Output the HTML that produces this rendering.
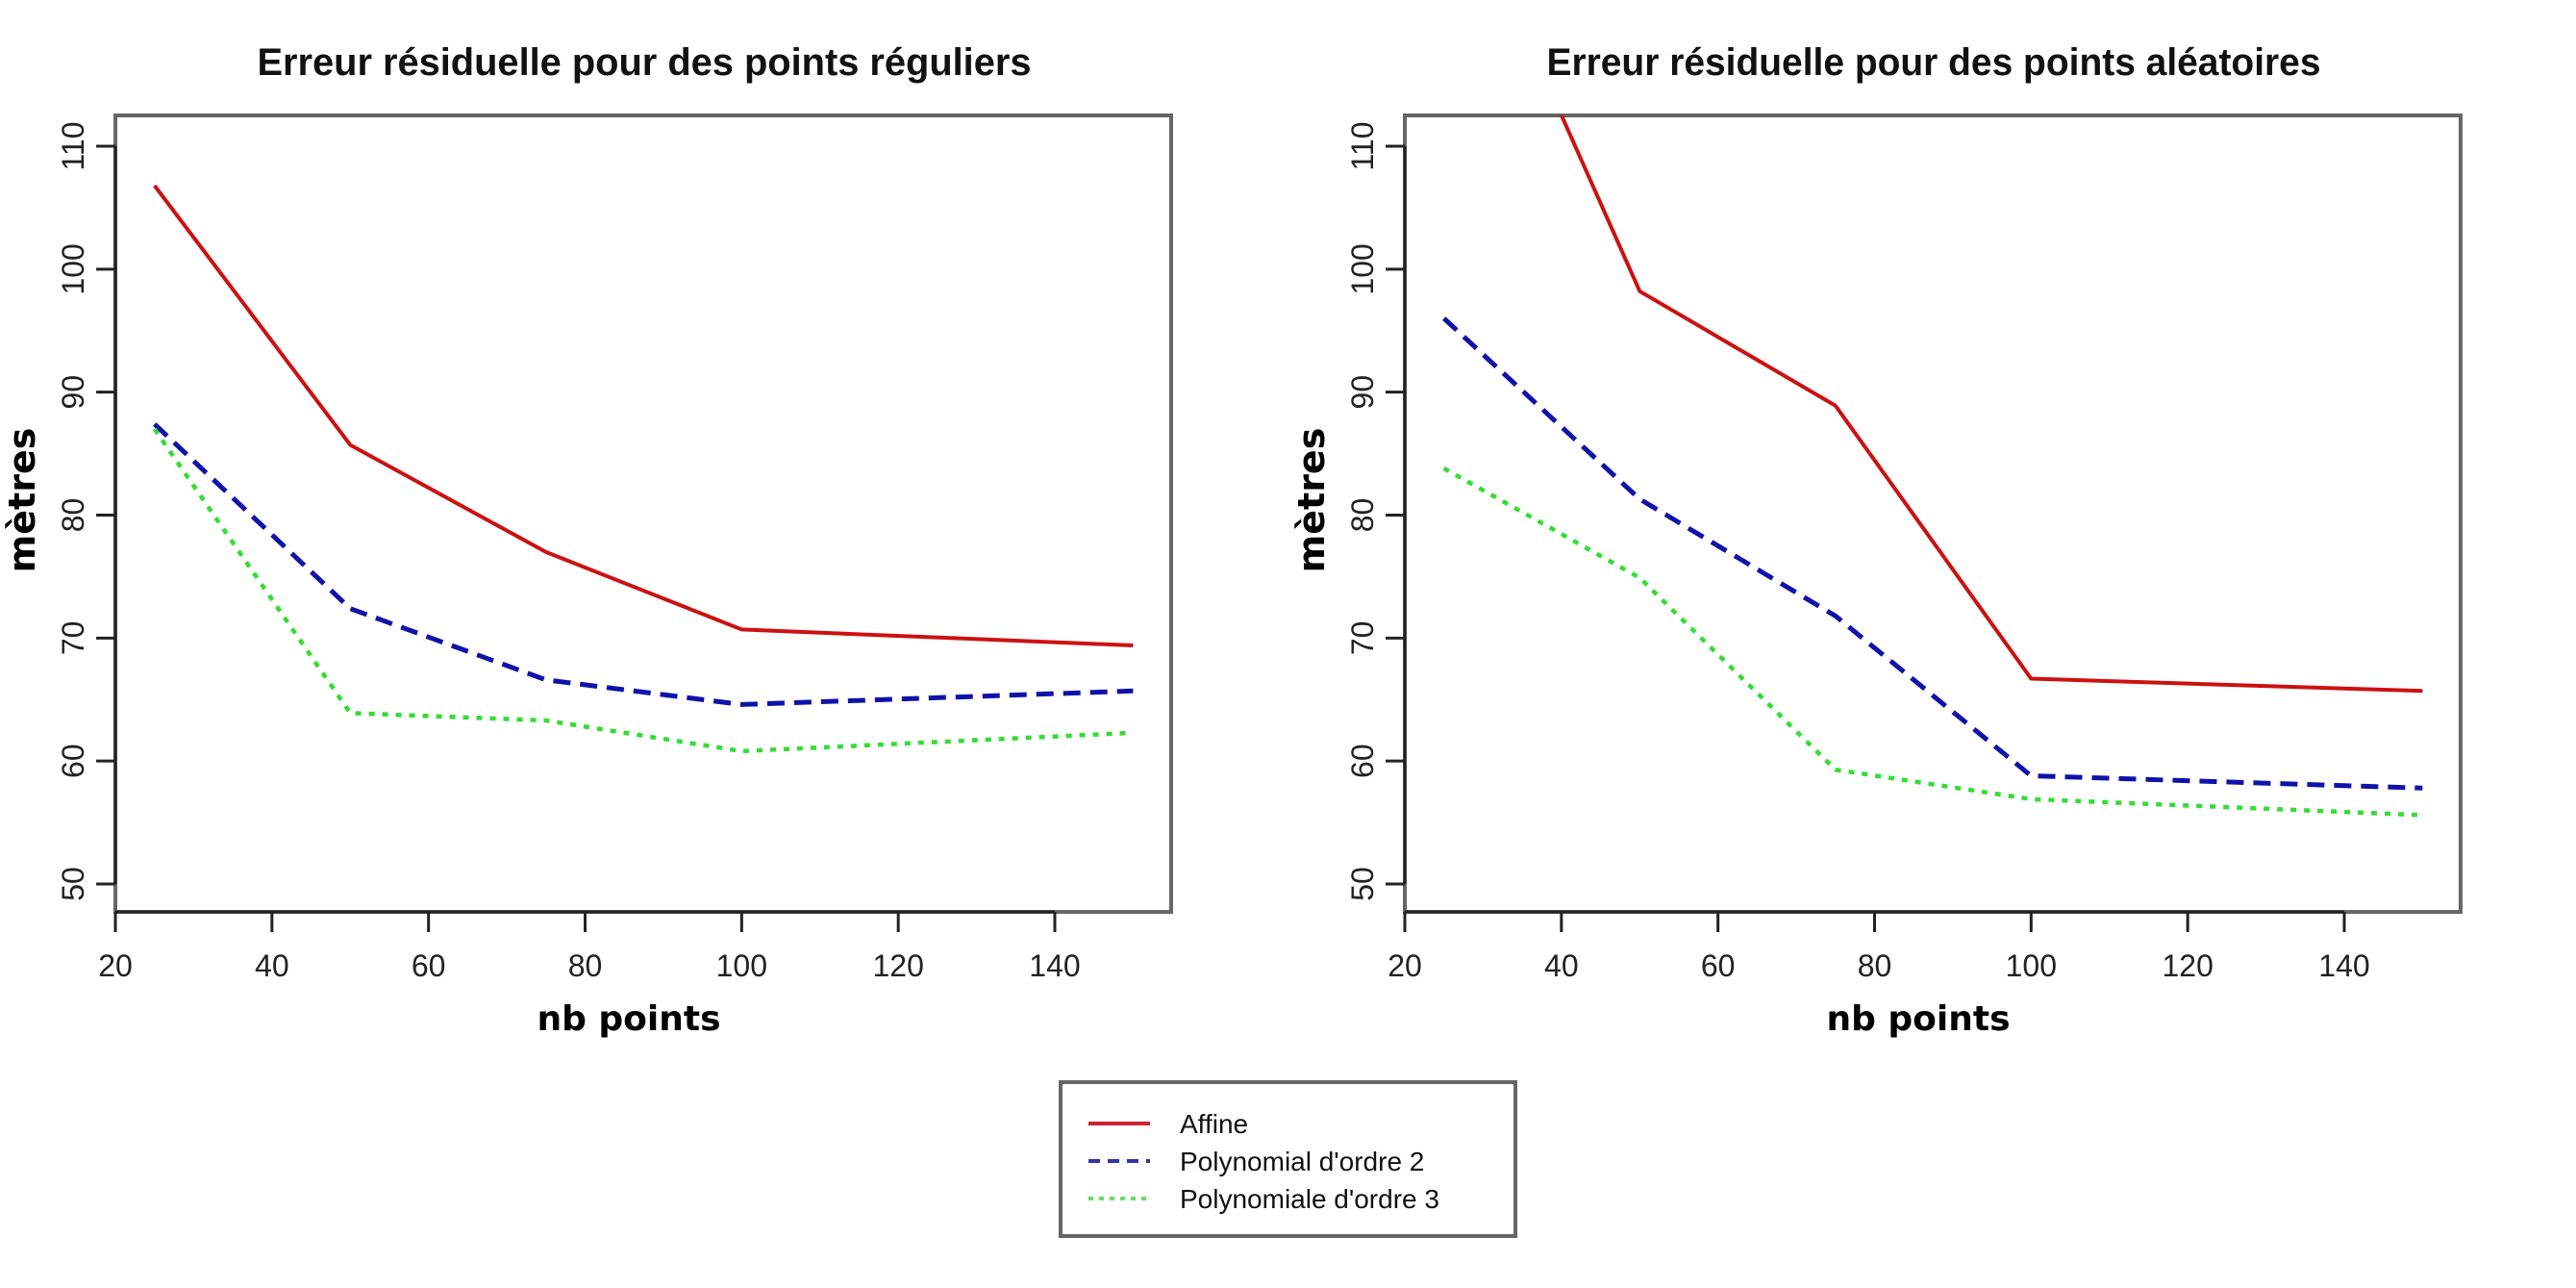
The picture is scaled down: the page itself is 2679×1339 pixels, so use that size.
<!DOCTYPE html>
<html><head><meta charset="utf-8"><style>
html,body{margin:0;padding:0;background:#fff;}
svg{display:block;font-family:"Liberation Sans",sans-serif;}
</style></head><body>
<svg id="chart" width="2679" height="1339" viewBox="0 0 2679 1339" xmlns="http://www.w3.org/2000/svg">
<defs>
<clipPath id="clipL"><rect x="120" y="120" width="1098" height="828"/></clipPath>
<clipPath id="clipR"><rect x="1461" y="120" width="1098" height="828"/></clipPath>
</defs>
<g id="root"></g>
<g>
<rect x="1103" y="1125" width="473" height="160" fill="#fff" stroke="#666" stroke-width="4"/>
<line x1="1132" y1="1168" x2="1196" y2="1168" stroke="#cc2233" stroke-width="4"/>
<line x1="1132" y1="1207" x2="1196" y2="1207" stroke="#3333aa" stroke-width="4" stroke-dasharray="12,8"/>
<line x1="1132" y1="1246" x2="1196" y2="1246" stroke="#66dd66" stroke-width="4" stroke-dasharray="5,6"/>
<text x="1227" y="1178" font-size="28" fill="#111">Affine</text>
<text x="1227" y="1217" font-size="28" fill="#111">Polynomial d'ordre 2</text>
<text x="1227" y="1256" font-size="28" fill="#111">Polynomiale d'ordre 3</text>
</g>
</svg>
<script>
const xValues = [25, 50, 75, 100, 150];
const xTicks = [20, 40, 60, 80, 100, 120, 140];
const yTicks = [50, 60, 70, 80, 90, 100, 110];
const leftAffine = [106.8, 85.7, 77.0, 70.7, 69.4];
const leftPoly2 = [87.4, 72.4, 66.6, 64.6, 65.7];
const leftPoly3 = [87.0, 63.9, 63.3, 60.8, 62.3];
const rightAffine = [134.0, 98.2, 88.9, 66.7, 65.7];
const rightPoly2 = [96.0, 81.3, 71.8, 58.8, 57.8];
const rightPoly3 = [83.8, 74.9, 59.3, 56.9, 55.6];
const titles = ["Erreur résiduelle pour des points réguliers", "Erreur résiduelle pour des points aléatoires"];

const NS = "http://www.w3.org/2000/svg";
const root = document.getElementById("root");
function mk(tag, attrs, parent) {
  const e = document.createElementNS(NS, tag);
  for (const k in attrs) e.setAttribute(k, attrs[k]);
  (parent || root).appendChild(e);
  return e;
}
function yScale(v) { return 919 + (v - 50) * (152 - 919) / 60; }

const panels = [
  {off: 0, clip: "clipL", name: "regular", series: [leftAffine, leftPoly2, leftPoly3]},
  {off: 1341, clip: "clipR", name: "random", series: [rightAffine, rightPoly2, rightPoly3]}
];
const styles = [
  {stroke: "#cc1111", w: 4, dash: "none", n: "affine"},
  {stroke: "#1111aa", w: 5, dash: "18,10", n: "poly2"},
  {stroke: "#33dd33", w: 4.5, dash: "6,8", n: "poly3"}
];

panels.forEach((p, pi) => {
  const x0 = 120 + p.off;
  const xScale = v => x0 + (v - 20) * (977 / 120);
  const g = mk("g", {});
  
  
  const box = mk("rect", {x: x0, y: 120, width: 1098, height: 828, fill: "none", stroke: "#666", "stroke-width": 4}, g);
  
  
  const t = mk("text", {x: x0 + 550, y: 78, "text-anchor": "middle", "font-size": 40, "font-weight": "bold", fill: "#111", textLength: 805, lengthAdjust: "spacingAndGlyphs"}, g);
  t.textContent = titles[pi];
  
  
  const xa = mk("line", {x1: xScale(20), y1: 948, x2: xScale(140), y2: 948, stroke: "#222", "stroke-width": 3}, g);
  
  
  xTicks.forEach(v => {
    const tk = mk("line", {x1: xScale(v), y1: 948, x2: xScale(v), y2: 969, stroke: "#222", "stroke-width": 3}, g);
    
    
    const l = mk("text", {x: xScale(v), y: 1015, "text-anchor": "middle", "font-size": 32, fill: "#222"}, g);
    l.textContent = v;
    
    
  });
  const ya = mk("line", {x1: x0, y1: yScale(50), x2: x0, y2: yScale(110), stroke: "#222", "stroke-width": 3}, g);
  
  
  yTicks.forEach(v => {
    const tk = mk("line", {x1: x0 - 20, y1: yScale(v), x2: x0, y2: yScale(v), stroke: "#222", "stroke-width": 3}, g);
    
    
    const lx = x0 - 33;
    const l = mk("text", {x: lx, y: yScale(v), "text-anchor": "middle", "font-size": 32, fill: "#222", transform: "rotate(-90 " + lx + " " + yScale(v) + ")"}, g);
    l.textContent = v;
    
    
  });
  const xt = mk("text", {x: x0 + 534, y: 1071, "text-anchor": "middle", "font-size": 36, "font-weight": "bold", fill: "#000", "font-family": "DejaVu Sans, sans-serif"}, g);
  xt.textContent = "nb points";
  
  
  const yx = p.off + 36;
  const yt = mk("text", {x: yx, y: 520, "text-anchor": "middle", "font-size": 38, "font-weight": "bold", fill: "#000", "font-family": "DejaVu Sans, sans-serif", transform: "rotate(-90 " + yx + " 520)"}, g);
  yt.textContent = "mètres";
  
  
  const sg = mk("g", {"clip-path": "url(#" + p.clip + ")"}, g);
  p.series.forEach((vals, si) => {
    const s = styles[si];
    const pts = vals.map((v, i) => xScale(xValues[i]).toFixed(1) + "," + yScale(v).toFixed(1)).join(" ");
    const pl = mk("polyline", {points: pts, fill: "none", stroke: s.stroke, "stroke-width": s.w, "stroke-dasharray": s.dash, "stroke-linejoin": "round"}, sg);
    
    
  });
});
</script>
</body></html>
